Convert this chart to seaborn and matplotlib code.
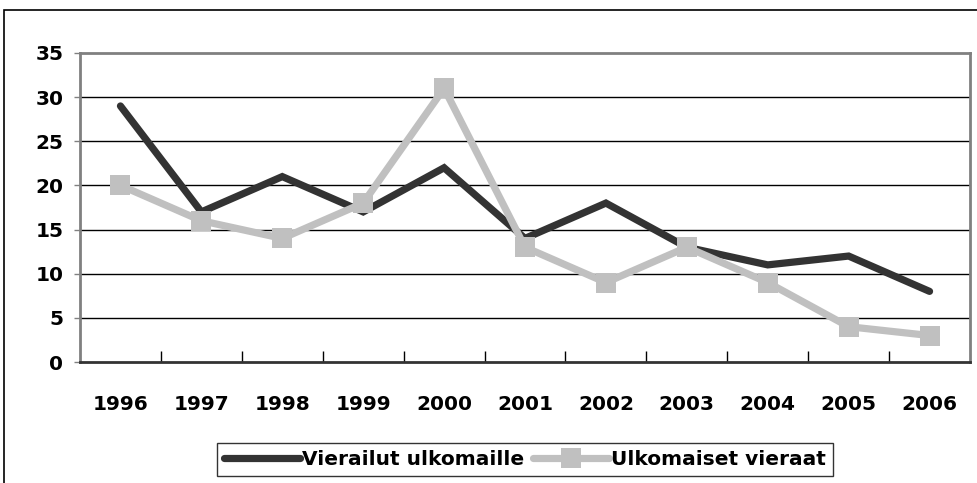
import matplotlib
matplotlib.use("Agg")
import matplotlib.pyplot as plt
import matplotlib.patches as patches
import seaborn as sns
import pandas as pd
import numpy as np

# data
years = ["1996", "1997", "1998", "1999", "2000", "2001", "2002", "2003", "2004", "2005", "2006"]
vierailut = [29, 17, 21, 17, 22, 14, 18, 13, 11, 12, 8]
ulkomaiset = [20, 16, 14, 18, 31, 13, 9, 13, 9, 4, 3]
series_names = ["Vierailut ulkomaille", "Ulkomaiset vieraat"]

df = pd.DataFrame({"pos": np.arange(len(years)), "v": vierailut, "u": ulkomaiset})

sns.set_style("white")
plt.rcParams["font.family"] = ["DejaVu Sans"]
plt.rcParams["font.weight"] = "bold"
plt.rcParams["text.color"] = "black"
plt.rcParams["xtick.color"] = "black"
plt.rcParams["ytick.color"] = "black"

fig = plt.figure(figsize=(9.78, 4.83), dpi=100)
ax = fig.add_axes([80 / 978, 1 - 362 / 483, 890 / 978, 309 / 483])

# outer chart-area border (runs off right and bottom edges like the reference)
fig.patches.append(patches.Rectangle((4 / 978, -0.1), 2.0, 1 - 10 / 483 + 0.1,
                                     transform=fig.transFigure, fill=False,
                                     edgecolor="black", linewidth=1.2, zorder=0))

sns.lineplot(data=df, x="pos", y="v", ax=ax, color="#333333", linewidth=5.2,
             label=series_names[0], solid_capstyle="round", solid_joinstyle="miter")
sns.lineplot(data=df, x="pos", y="u", ax=ax, color="#c0c0c0", linewidth=5.2,
             marker="s", markersize=14, markeredgewidth=0, label=series_names[1],
             solid_capstyle="round")

ax.set_xlim(-0.5, len(years) - 0.5)
ax.set_ylim(0, 35)
ax.set_yticks(range(0, 36, 5))
ax.set_xticks(df["pos"])
ax.set_xticklabels(years)
ax.set_xlabel("")
ax.set_ylabel("")

# gridlines
for yv in range(5, 35, 5):
    ax.axhline(yv, color="black", linewidth=1.0, zorder=0)

# category boundary ticks, pointing up into the plot
ax.set_xticks(np.arange(0.5, len(years) - 1, 1), minor=True)
ax.tick_params(axis="x", which="major", length=0, pad=24, labelsize=14.5, labelcolor="black")
ax.tick_params(axis="x", which="minor", direction="in", length=8, width=1, color="black", bottom=True)
ax.tick_params(axis="y", which="major", direction="out", length=4, width=1,
               color="#808080", pad=8, labelsize=14.5, left=True, labelcolor="black")

for lbl in ax.get_xticklabels() + ax.get_yticklabels():
    lbl.set_fontweight("bold")

ax.spines["top"].set_color("#808080")
ax.spines["right"].set_color("#808080")
ax.spines["left"].set_color("#808080")
ax.spines["bottom"].set_color("#333333")
for s in ax.spines.values():
    s.set_linewidth(2)
    s.set_visible(True)

leg = ax.legend(loc="upper center", bbox_to_anchor=(525 / 978, 1 - 443 / 483),
                bbox_transform=fig.transFigure, ncol=2, frameon=True, fancybox=False,
                edgecolor="black", handlelength=3.8, handletextpad=0.1,
                columnspacing=0.4, borderpad=0.35, borderaxespad=0,
                prop={"size": 14.5, "weight": "bold"})
leg.get_frame().set_linewidth(1.0)
for t in leg.get_texts():
    t.set_color("black")

fig.savefig("out.png", dpi=100)
